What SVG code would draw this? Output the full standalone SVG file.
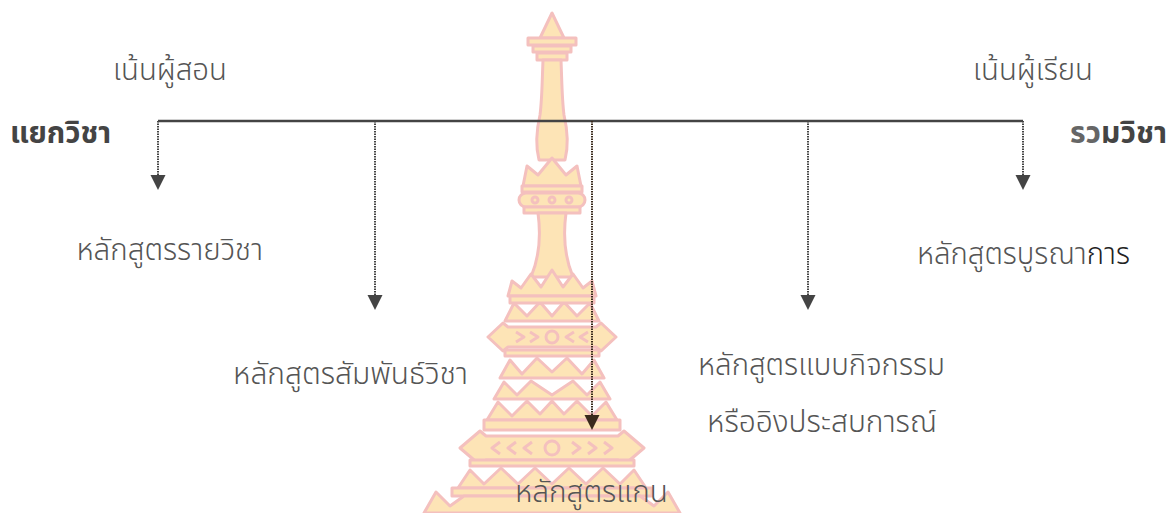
<svg xmlns="http://www.w3.org/2000/svg" width="1169" height="513" viewBox="0 0 1169 513">
<style>
.lbl{font-family:"Noto Sans Thai","Noto Sans","Liberation Sans",sans-serif;font-size:29.5px;font-weight:300;fill:#555;}
.bold{font-weight:bold;fill:#444;}
.wm{fill:#fde4b6;stroke:#f4c0be;stroke-width:3;stroke-linejoin:round;}
.main{stroke:#444;stroke-width:2.5;fill:none;}
.drop{stroke:#444;stroke-width:2;stroke-dasharray:1.5 1;fill:none;}
.head{fill:#444;}
</style>
<rect width="1169" height="513" fill="#fff"/>
<g id="watermark">
<polygon class="wm" points="552,13 540,38 564,38"/>
<rect class="wm" x="528" y="38" width="48" height="7"/>
<rect class="wm" x="533" y="46" width="38" height="6"/>
<rect class="wm" x="537" y="53" width="30" height="7"/>
<path class="wm" d="M543,60 C542,85 542,100 540,115 C536,132 536,148 539,160 L565,160 C568,148 568,132 564,115 C562,100 562,85 561,60 Z"/>
<path class="wm" d="M523,186 L527,166 L538,175 L552,158 L566,175 L577,166 L581,186 Z"/>
<rect class="wm" x="522" y="186" width="60" height="6"/>
<rect class="wm" x="519" y="193" width="66" height="14" rx="7"/>
<circle class="wm" cx="535" cy="200" r="3"/><circle class="wm" cx="552" cy="200" r="3"/><circle class="wm" cx="569" cy="200" r="3"/>
<rect class="wm" x="524" y="207" width="56" height="6"/>
<path class="wm" d="M538,213 C541,235 539,258 531,277 L573,277 C565,258 563,235 566,213 Z"/>
<path class="wm" d="M508,296 L512,281 L521,288 L531,274 L541,287 L552,270 L563,287 L573,274 L583,288 L592,281 L596,296 Z"/>
<path class="wm" d="M505,321 L514,303 L527,316 L540,302 L552,316 L564,302 L577,316 L590,303 L599,321 Z"/>
<rect class="wm" x="510" y="296" width="84" height="7"/>
<path class="wm" d="M488,337 L503,323 L508,327 L596,327 L601,323 L616,337 L601,351 L596,347 L508,347 L503,351 Z"/>
<circle class="wm" cx="552" cy="337" r="6"/>
<path class="wm" d="M516,332 L524,337 L516,342 M588,332 L580,337 L588,342 M530,332 L538,337 L530,342 M574,332 L566,337 L574,342"/>
<rect class="wm" x="505" y="350" width="94" height="6"/>
<path class="wm" d="M500,378 L510,360 L522,374 L537,358 L552,372 L567,358 L582,374 L594,360 L604,378 Z"/>
<path class="wm" d="M494,399 L504,382 L517,395 L531,381 L552,395 L573,381 L587,395 L600,382 L610,399 Z"/>
<path class="wm" d="M487,420 L498,402 L512,416 L527,401 L540,414 L552,401 L564,414 L577,401 L592,416 L606,402 L617,420 Z"/>
<rect class="wm" x="484" y="420" width="136" height="10"/>
<path class="wm" d="M460,448 L480,431 L486,436 L618,436 L624,431 L644,448 L624,465 L618,460 L486,460 L480,465 Z"/>
<circle class="wm" cx="552" cy="448" r="7"/>
<path class="wm" d="M500,442 L492,448 L500,454 M516,442 L508,448 L516,454 M532,442 L524,448 L532,454 M604,442 L612,448 L604,454 M588,442 L596,448 L588,454 M572,442 L580,448 L572,454"/>
<path class="wm" d="M458,488 L470,470 L484,484 L501,468 L518,484 L535,468 L552,484 L569,468 L586,484 L603,468 L620,484 L634,470 L646,488 Z"/>
<rect class="wm" x="470" y="460" width="164" height="6"/>
<rect class="wm" x="452" y="488" width="200" height="8"/>
<path class="wm" d="M424,513 L436,492 L450,506 L464,496 L640,496 L654,506 L668,492 L680,513 Z"/>
</g>
<g id="connectors">
<line class="main" x1="158" y1="121" x2="1023" y2="121"/>
<line class="drop" x1="158" y1="121" x2="158" y2="175"/>
<polygon class="head" points="150.5,175 165.5,175 158,190"/>
<line class="drop" x1="375" y1="121" x2="375" y2="295"/>
<polygon class="head" points="367.5,295 382.5,295 375,310"/>
<line class="drop" x1="592" y1="121" x2="592" y2="415" style="stroke:#3a2a1c"/>
<polygon class="head" points="584.5,415 599.5,415 592,430" style="fill:#3a2a1c"/>
<line class="drop" x1="808" y1="121" x2="808" y2="295"/>
<polygon class="head" points="800.5,295 815.5,295 808,310"/>
<line class="drop" x1="1023" y1="121" x2="1023" y2="175"/>
<polygon class="head" points="1015.5,175 1030.5,175 1023,190"/>
</g>
<g id="n-teacher"><text class="lbl" x="113" y="80" textLength="114" lengthAdjust="spacingAndGlyphs">เน้นผู้สอน</text></g>
<g id="n-learner"><text class="lbl" x="973" y="80" textLength="120" lengthAdjust="spacingAndGlyphs">เน้นผู้เรียน</text></g>
<g id="n-separate"><text class="lbl bold" x="10" y="143" textLength="101" lengthAdjust="spacingAndGlyphs">แยกวิชา</text></g>
<g id="n-combine"><text class="lbl bold" x="1070" y="143" textLength="97" lengthAdjust="spacingAndGlyphs"><tspan style="fill:#666">รว</tspan>มวิชา</text></g>
<g id="n-subject"><text class="lbl" x="263" y="260" text-anchor="end">หลักสูตรรายวิชา</text></g>
<g id="n-correlated"><text class="lbl" x="233" y="384" textLength="235" lengthAdjust="spacingAndGlyphs">หลักสูตรสัมพันธ์วิชา</text></g>
<g id="n-core"><text class="lbl" x="515" y="502" textLength="153" lengthAdjust="spacingAndGlyphs">หลักสูตรแกน</text></g>
<g id="n-activity"><text class="lbl" x="698" y="375" textLength="247" lengthAdjust="spacingAndGlyphs">หลักสูตรแบบกิจกรรม</text><text class="lbl" x="707" y="432" textLength="230" lengthAdjust="spacingAndGlyphs">หรืออิงประสบการณ์</text></g>
<g id="n-integrated"><text class="lbl" x="917" y="264" textLength="213" lengthAdjust="spacingAndGlyphs">หลักสูตรบูรณา<tspan style="fill:#222">การ</tspan></text></g>
</svg>
